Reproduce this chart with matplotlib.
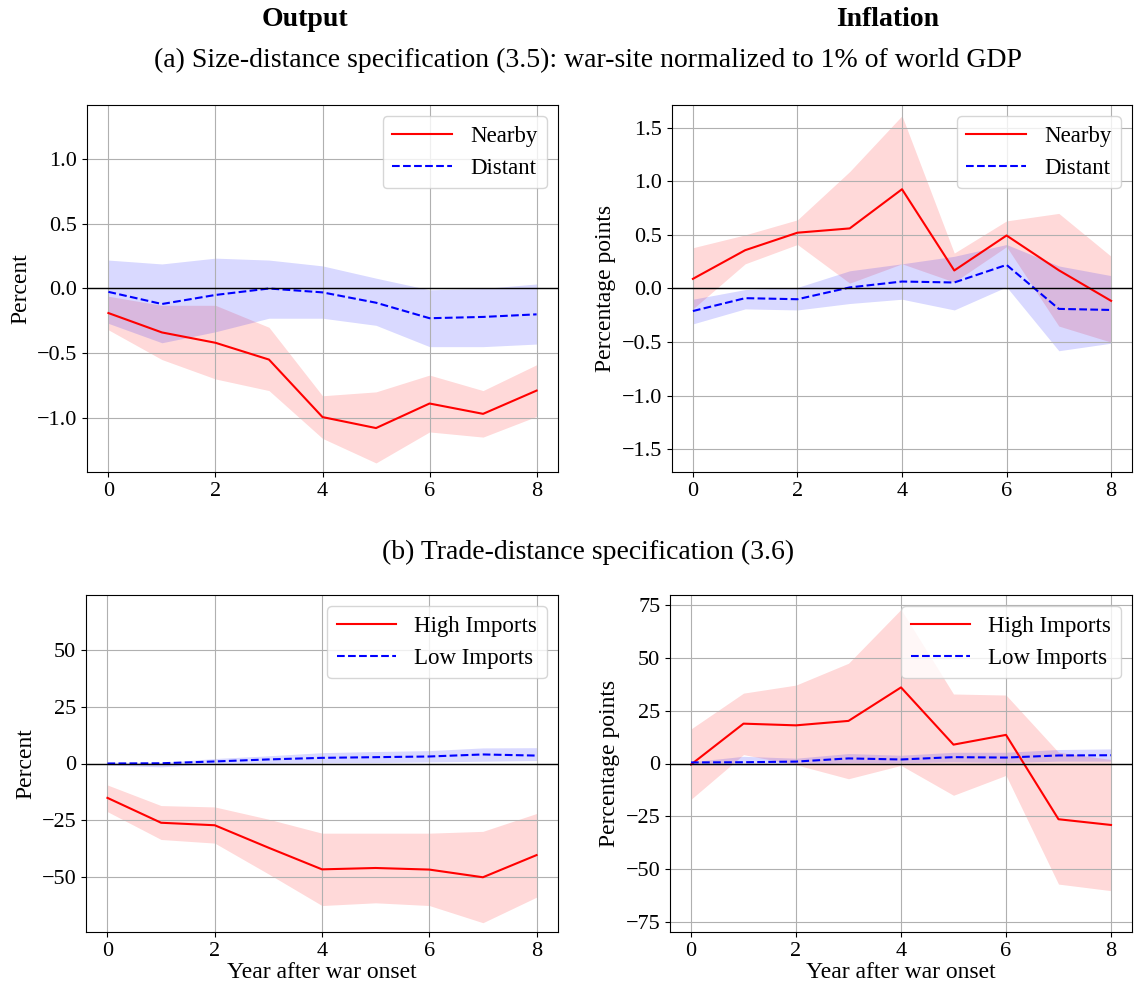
import numpy as np
import matplotlib
matplotlib.use('Agg')
import matplotlib.pyplot as plt

plt.rcParams['font.family'] = ['Liberation Serif', 'DejaVu Serif']
plt.rcParams['mathtext.fontset'] = 'stix'
plt.rcParams['font.size'] = 16

years = np.arange(9)

# (a) size-distance, output
out_near = [-0.19, -0.34, -0.42, -0.55, -0.995, -1.08, -0.89, -0.97, -0.79]
out_near_hi = [-0.06, -0.13, -0.13, -0.30, -0.83, -0.80, -0.67, -0.79, -0.59]
out_near_lo = [-0.32, -0.55, -0.70, -0.79, -1.16, -1.35, -1.11, -1.15, -0.99]
out_dist = [-0.026, -0.12, -0.05, 0.0, -0.03, -0.11, -0.23, -0.22, -0.20]
out_dist_hi = [0.22, 0.19, 0.235, 0.22, 0.175, 0.08, -0.01, 0.0, 0.035]
out_dist_lo = [-0.27, -0.42, -0.335, -0.23, -0.23, -0.285, -0.45, -0.45, -0.43]

# (a) size-distance, inflation
inf_near = [0.09, 0.357, 0.52, 0.56, 0.925, 0.168, 0.494, 0.17, -0.115]
inf_near_hi = [0.38, 0.50, 0.64, 1.09, 1.61, 0.33, 0.63, 0.70, 0.30]
inf_near_lo = [-0.19, 0.23, 0.41, 0.05, 0.23, 0.06, 0.39, -0.35, -0.50]
inf_dist = [-0.21, -0.09, -0.10, 0.01, 0.065, 0.056, 0.22, -0.19, -0.20]
inf_dist_hi = [-0.10, -0.01, 0.01, 0.165, 0.23, 0.30, 0.41, 0.21, 0.12]
inf_dist_lo = [-0.33, -0.19, -0.20, -0.14, -0.10, -0.20, 0.015, -0.58, -0.51]

# (b) trade-distance, output
tout_high = [-15.2, -26.2, -27.3, -37.2, -46.8, -46.2, -46.9, -50.3, -40.5]
tout_high_hi = [-9.5, -18.6, -19.2, -24.6, -30.8, -30.8, -30.8, -30.0, -22.1]
tout_high_lo = [-21.3, -33.6, -35.2, -48.8, -62.8, -61.6, -62.8, -70.4, -59.1]
tout_low = [0.0, 0.1, 0.9, 1.8, 2.5, 2.8, 3.1, 4.0, 3.5]
tout_low_hi = [0.6, 0.4, 2.2, 3.4, 4.8, 5.3, 5.7, 6.9, 7.0]
tout_low_lo = [-0.7, -1.5, -0.1, 0.0, 0.3, 0.4, 0.7, 1.0, 1.3]

# (b) trade-distance, inflation
tinf_high = [-0.5, 18.8, 18.0, 20.1, 35.9, 8.9, 13.5, -26.3, -29.0]
tinf_high_hi = [16.3, 33.2, 37.0, 47.3, 72.7, 32.8, 32.3, 5.3, 1.9]
tinf_high_lo = [-16.9, 4.2, -0.6, -7.2, -0.9, -15.0, -5.6, -56.9, -60.0]
tinf_low = [0.5, 0.6, 0.9, 2.4, 1.9, 3.0, 2.8, 3.8, 3.9]
tinf_low_hi = [0.8, 3.4, 2.5, 4.7, 3.9, 5.3, 5.3, 6.6, 6.9]
tinf_low_lo = [-0.6, -0.8, -0.6, 0.3, 0.3, 0.8, 0.5, 1.1, 1.1]

W, H = 1137, 986
fig = plt.figure(figsize=(W / 100, H / 100), dpi=100)


def mkax(l, t, r, b):
    return fig.add_axes([l / W, 1 - b / H, (r - l) / W, (b - t) / H])


def panel(ax, a, a_hi, a_lo, b, b_hi, b_lo, labels, ylab, ylim, yticks, xlab=False):
    ax.plot(years, a, color='red', lw=1.5, label=labels[0])
    ax.fill_between(years, a_lo, a_hi, color='red', alpha=0.15, lw=0)
    ax.plot(years, b, color='blue', lw=1.5, ls='--', label=labels[1])
    ax.fill_between(years, b_lo, b_hi, color='blue', alpha=0.15, lw=0)
    ax.axhline(0, color='black', lw=1)
    ax.set_ylim(ylim)
    ax.set_yticks(yticks)
    ax.set_xticks([0, 2, 4, 6, 8])
    ax.tick_params(labelsize=16)
    ax.grid(True, color='#b0b0b0', lw=0.8)
    ax.set_ylabel(ylab, fontsize=17, labelpad=4)
    if xlab:
        ax.set_xlabel('Year after war onset', fontsize=17, labelpad=1)
    ax.legend(loc='upper right', fontsize=16.5, handlelength=2.6)


ax1 = mkax(87, 105, 558, 472)
panel(ax1, out_near, out_near_hi, out_near_lo, out_dist, out_dist_hi, out_dist_lo,
      ['Nearby', 'Distant'], 'Percent', (-1.42, 1.42), [-1.0, -0.5, 0.0, 0.5, 1.0])

ax2 = mkax(672, 105, 1132, 472)
panel(ax2, inf_near, inf_near_hi, inf_near_lo, inf_dist, inf_dist_hi, inf_dist_lo,
      ['Nearby', 'Distant'], 'Percentage points', (-1.71, 1.71),
      [-1.5, -1.0, -0.5, 0.0, 0.5, 1.0, 1.5])

ax3 = mkax(86, 595, 558, 932)
panel(ax3, tout_high, tout_high_hi, tout_high_lo, tout_low, tout_low_hi, tout_low_lo,
      ['High Imports', 'Low Imports'], 'Percent', (-74.5, 74.5), [-50, -25, 0, 25, 50],
      xlab=True)

ax4 = mkax(670, 595, 1132, 932)
panel(ax4, tinf_high, tinf_high_hi, tinf_high_lo, tinf_low, tinf_low_hi, tinf_low_lo,
      ['High Imports', 'Low Imports'], 'Percentage points', (-79.5, 79.5),
      [-75, -50, -25, 0, 25, 50, 75], xlab=True)

fig.text(305 / W, 1 - 20 / H, 'Output', ha='center', va='center', fontsize=20, fontweight='bold')
fig.text(888 / W, 1 - 20 / H, 'Inflation', ha='center', va='center', fontsize=20, fontweight='bold')
fig.text(588 / W, 1 - 60 / H,
         '(a) Size-distance specification (3.5): war-site normalized to 1% of world GDP',
         ha='center', va='center', fontsize=20)
fig.text(588 / W, 1 - 552 / H, '(b) Trade-distance specification (3.6)',
         ha='center', va='center', fontsize=20)

fig.savefig('out.png', dpi=100)
